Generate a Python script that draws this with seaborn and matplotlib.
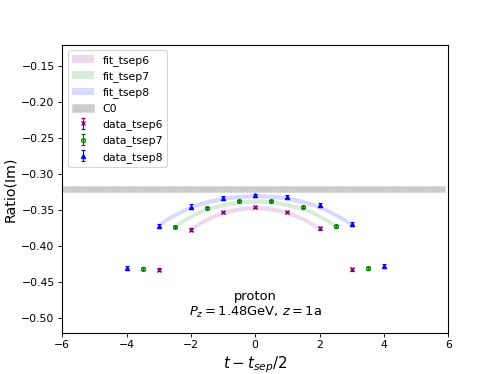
import numpy as np
import matplotlib
matplotlib.use("Agg")
import matplotlib.pyplot as plt
import seaborn as sns

# ---- data ----
t6 = [-3, -2, -1, 0, 1, 2, 3]
r6 = [-0.4325, -0.377, -0.352, -0.345, -0.352, -0.375, -0.4316]
e6 = [0.002, 0.002, 0.0015, 0.0015, 0.0015, 0.002, 0.002]

t7 = [-3.5, -2.5, -1.5, -0.5, 0.5, 1.5, 2.5, 3.5]
r7 = [-0.431, -0.373, -0.347, -0.337, -0.337, -0.345, -0.372, -0.430]
e7 = [0.002, 0.002, 0.0015, 0.0015, 0.0015, 0.0015, 0.002, 0.002]

t8 = [-4, -3, -2, -1, 0, 1, 2, 3, 4]
r8 = [-0.430, -0.372, -0.3446, -0.333, -0.329, -0.3307, -0.342, -0.3686, -0.427]
e8 = [0.003, 0.003, 0.003, 0.0025, 0.0025, 0.0025, 0.003, 0.003, 0.003]

# fit bands (centre values)
ft6 = [-2.0, -1.75, -1.5, -1.25, -1.0, -0.75, -0.5, -0.25, 0.0, 0.25, 0.5, 0.75, 1.0, 1.25, 1.5, 1.75, 2.0]
fv6 = [-0.376, -0.368, -0.362, -0.357, -0.353, -0.350, -0.348, -0.3465, -0.346, -0.3465, -0.348, -0.350, -0.353, -0.357, -0.362, -0.368, -0.376]
ft7 = [-2.5, -2.25, -2.0, -1.75, -1.5, -1.25, -1.0, -0.75, -0.5, -0.25, 0.0, 0.25, 0.5, 0.75, 1.0, 1.25, 1.5, 1.75, 2.0, 2.25, 2.5]
fv7 = [-0.372, -0.364, -0.358, -0.352, -0.348, -0.345, -0.342, -0.340, -0.338, -0.3372, -0.337, -0.3372, -0.338, -0.340, -0.342, -0.345, -0.348, -0.352, -0.358, -0.364, -0.372]
ft8 = [-3.0, -2.75, -2.5, -2.25, -2.0, -1.75, -1.5, -1.25, -1.0, -0.75, -0.5, -0.25, 0.0, 0.25, 0.5, 0.75, 1.0, 1.25, 1.5, 1.75, 2.0, 2.25, 2.5, 2.75, 3.0]
fv8 = [-0.370, -0.362, -0.356, -0.350, -0.345, -0.341, -0.338, -0.3355, -0.333, -0.3315, -0.3305, -0.3298, -0.3295, -0.3298, -0.3305, -0.3315, -0.333, -0.3355, -0.338, -0.341, -0.345, -0.350, -0.356, -0.362, -0.370]
fit_err = 0.003

c0_t = [-6.0, 5.9]
c0_val = -0.3205
c0_err = 0.0042

xlim = (-6, 6)
ylim = (-0.52, -0.12)
yticks = [-0.50, -0.45, -0.40, -0.35, -0.30, -0.25, -0.20, -0.15]
xticks = [-6, -4, -2, 0, 2, 4, 6]

sns.set_style("ticks")
plt.rcParams.update({
    "axes.edgecolor": "black",
    "xtick.color": "black",
    "ytick.color": "black",
    "axes.labelcolor": "black",
    "text.color": "black",
    "font.family": ["DejaVu Sans"],
})

fig, ax = plt.subplots(figsize=(498 / 78, 374 / 78), dpi=78)

for tt, vv, col, lab in [(ft6, fv6, "purple", "fit_tsep6"),
                         (ft7, fv7, "green", "fit_tsep7"),
                         (ft8, fv8, "blue", "fit_tsep8")]:
    vv = np.asarray(vv)
    ax.fill_between(tt, vv - fit_err, vv + fit_err, color=col, alpha=0.15,
                    linewidth=0, label=lab)

ax.fill_between(c0_t, [c0_val - c0_err] * 2, [c0_val + c0_err] * 2,
                color="grey", alpha=0.4, linewidth=0.5, linestyle=":",
                edgecolor="dimgrey", label="C0")

ax.errorbar(t6, r6, yerr=e6, fmt="x", color="purple", ms=3.5, mew=1.2,
            capsize=1.5, elinewidth=1, label="data_tsep6")
ax.errorbar(t7, r7, yerr=e7, fmt="o", color="green", ms=3.5, mew=1.2,
            mfc="none", capsize=1.5, elinewidth=1, label="data_tsep7")
ax.errorbar(t8, r8, yerr=e8, fmt="^", color="blue", ms=4, mew=1,
            capsize=1.5, elinewidth=1, label="data_tsep8")

ax.set_xlim(*xlim)
ax.set_ylim(*ylim)
ax.set_xticks(xticks)
ax.set_yticks(yticks)
ax.tick_params(labelsize=10)
ax.set_xlabel(r"$t - t_{sep}/2$", fontsize=14)
ax.set_ylabel("Ratio(Im)", fontsize=13)
ax.text(0, -0.481, "proton\n" + r"$P_z = 1.48$GeV, $z = 1$a",
        ha="center", va="center", multialignment="center", fontsize=12)
ax.legend(loc="upper left", fontsize=10)
for s in ax.spines.values():
    s.set_visible(True)
    s.set_linewidth(1)

fig.savefig("out.png", dpi=78)
